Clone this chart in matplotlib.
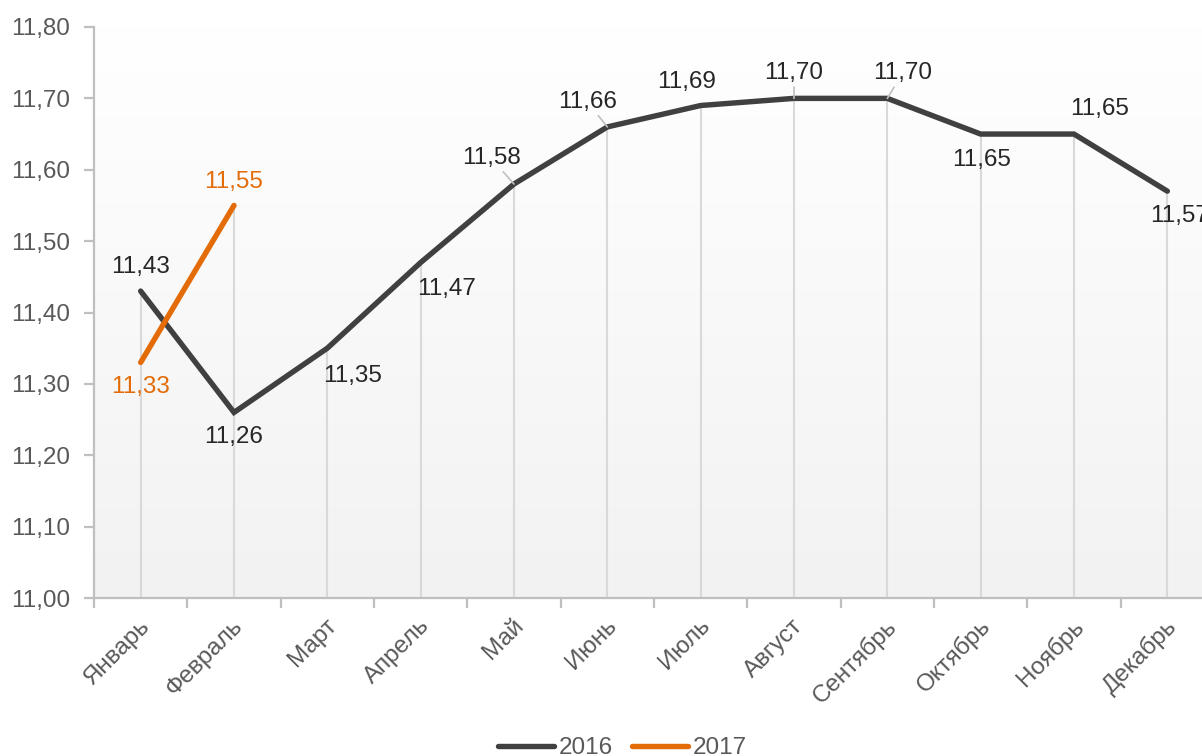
import numpy as np
import matplotlib
matplotlib.use("Agg")
import matplotlib.pyplot as plt
import matplotlib.transforms as mtransforms

plt.rcParams['font.family'] = ['Liberation Sans', 'DejaVu Sans']

months = ["Январь", "Февраль", "Март", "Апрель", "Май", "Июнь", "Июль",
          "Август", "Сентябрь", "Октябрь", "Ноябрь", "Декабрь"]
values_2016 = [11.43, 11.26, 11.35, 11.47, 11.58, 11.66, 11.69, 11.70, 11.70, 11.65, 11.65, 11.57]
values_2017 = [11.33, 11.55]
yticks = [11.00, 11.10, 11.20, 11.30, 11.40, 11.50, 11.60, 11.70, 11.80]

# label offsets (pixels) and whether a leader line is drawn
off_2016 = [(0, 24), (0, -25), (25, -28), (26, -26), (-23, 26), (-20, 25),
            (-14, 24), (0, 25), (15, 25), (1, -26), (26, 25), (12, -25)]
leader_2016 = [False, False, False, False, True, True, False, True, True, False, False, False]
off_2017 = [(0, -25), (0, 23)]

DARK = "#404040"
ORANGE = "#E36C09"
GRID = "#d9d9d9"
AXC = "#bfbfbf"
TXT = "#595959"
LBL = "#262626"

fig = plt.figure(figsize=(12.02, 7.56), dpi=100)
ax = fig.add_axes([94 / 1202, 1 - 598 / 756, 1120 / 1202, 571 / 756])

x16 = np.arange(len(values_2016))
x17 = np.arange(len(values_2017))

# gradient background
grad = np.linspace(1.0, 0.0, 256).reshape(-1, 1)
ax.imshow(grad, extent=[0, 1, 0, 1], transform=ax.transAxes, aspect='auto',
          cmap=matplotlib.colors.LinearSegmentedColormap.from_list("g", ["#f2f2f2", "#ffffff"]),
          zorder=0, interpolation='bicubic')

ax.set_xlim(-0.5, len(months) - 0.5)
ax.set_ylim(11.0, 11.8)

# drop lines
tops = list(values_2016)
for i, v in enumerate(values_2017):
    tops[i] = max(tops[i], v)
ax.vlines(x16, 11.0, tops, colors=GRID, lw=1.5, zorder=1)

ax.plot(x16, values_2016, color=DARK, lw=3.9, solid_capstyle='round',
        solid_joinstyle='miter', zorder=3, label="2016")
ax.plot(x17, values_2017, color=ORANGE, lw=3.9, solid_capstyle='round', zorder=4, label="2017")

def fmt(v):
    return f"{v:.2f}".replace(".", ",")

for i, v in enumerate(values_2016):
    kw = {}
    if leader_2016[i]:
        kw['arrowprops'] = dict(arrowstyle='-', color=AXC, lw=1.2, shrinkA=0, shrinkB=0)
    ax.annotate(fmt(v), (x16[i], v), xytext=off_2016[i], textcoords='offset pixels',
                ha='center', va='center', fontsize=17.5, color=LBL, zorder=5, **kw)
for i, v in enumerate(values_2017):
    ax.annotate(fmt(v), (x17[i], v), xytext=off_2017[i], textcoords='offset pixels',
                ha='center', va='center', fontsize=17.5, color=ORANGE, zorder=5)

# axes styling
for s in ['top', 'right']:
    ax.spines[s].set_visible(False)
for s in ['left', 'bottom']:
    ax.spines[s].set_color(AXC)
    ax.spines[s].set_linewidth(1.6)

ax.set_yticks(yticks)
ax.set_yticklabels([fmt(t) for t in yticks])
ax.tick_params(axis='y', length=7, width=1.6, color=AXC, labelcolor=TXT,
               labelsize=17.5, pad=10)

ax.set_xticks(np.arange(len(months) + 1) - 0.5)
ax.set_xticklabels([])
ax.tick_params(axis='x', which='major', length=7, width=1.6, color=AXC)
ax.set_xticks(x16, minor=True)
ax.set_xticklabels(months, minor=True, rotation=45, ha='right', va='top',
                   rotation_mode='anchor')
ax.tick_params(axis='x', which='minor', length=0, labelcolor=TXT, labelsize=17.5, pad=12)
shift = mtransforms.ScaledTranslation(-2 / 100, 0, fig.dpi_scale_trans)
for lab in ax.get_xticklabels(minor=True):
    lab.set_transform(lab.get_transform() + shift)

leg = ax.legend(loc='center', bbox_to_anchor=(0.518, 0.010), bbox_transform=fig.transFigure,
                ncol=2, frameon=False, fontsize=17.5, handlelength=2.3, handletextpad=0.2,
                columnspacing=0.8, labelcolor=TXT)

fig.savefig("out.png", dpi=100)
